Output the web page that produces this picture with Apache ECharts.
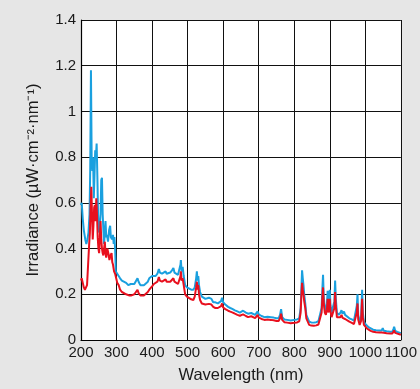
<!DOCTYPE html>
<html>
<head>
<meta charset="utf-8">
<script src="https://cdn.jsdelivr.net/npm/echarts@6/dist/echarts.min.js"></script>
<style>
html,body{margin:0;padding:0;background:#e6e6e6;}
#chart{width:420px;height:389px;}
</style>
</head>
<body>
<div id="chart"></div>
<script>
const xTicks = [200, 300, 400, 500, 600, 700, 800, 900, 1000, 1100];
const yTicks = [0, 0.2, 0.4, 0.6, 0.8, 1, 1.2, 1.4];

const blueNm = [200,202,205,208,212,215,218,221,224,226,228,230,232,234,236,238,240,242,244,246,248,250,252,255,257,259,261,263,265,267,269,271,273,276,279,282,284,287,290,292,294,296,298,302,306,310,315,320,327,333,340,345,350,355,359,362,367,372,377,382,388,392,396,400,405,410,415,419,422,428,433,438,441,446,451,456,460,463,468,473,477,480,481,483,486,489,493,498,503,510,516,520,524,526,528,530,532,535,540,545,550,555,560,563,567,572,578,585,590,594,597,600,606,614,620,627,633,640,647,652,656,660,664,670,675,679,683,690,697,700,708,716,725,734,742,750,756,760,763,766,772,780,790,800,808,814,818,820,822,824,826,828,831,834,838,842,848,855,862,868,873,877,879,881,883,886,889,892,894,896,898,900,902,905,910,913,915,917,920,925,930,933,936,940,943,948,955,962,968,973,976,978,980,984,988,991,993,996,1000,1005,1010,1015,1022,1030,1040,1046,1049,1052,1060,1070,1076,1079,1081,1084,1090,1095,1100];
const blueVal = [0.59,0.60,0.53,0.48,0.44,0.42,0.44,0.47,0.55,0.75,1.18,0.80,0.74,0.80,0.62,0.72,0.83,0.80,0.86,0.72,0.55,0.47,0.48,0.55,0.70,0.71,0.55,0.48,0.42,0.47,0.52,0.45,0.46,0.43,0.48,0.50,0.45,0.44,0.46,0.42,0.45,0.40,0.30,0.29,0.28,0.27,0.26,0.255,0.25,0.24,0.245,0.24,0.245,0.25,0.27,0.255,0.24,0.235,0.24,0.245,0.255,0.27,0.265,0.28,0.285,0.28,0.29,0.31,0.295,0.29,0.295,0.30,0.29,0.29,0.295,0.305,0.315,0.295,0.29,0.285,0.29,0.33,0.35,0.30,0.32,0.28,0.24,0.23,0.225,0.22,0.22,0.23,0.27,0.30,0.26,0.28,0.24,0.21,0.19,0.185,0.18,0.175,0.185,0.19,0.18,0.165,0.165,0.16,0.16,0.17,0.185,0.165,0.155,0.145,0.14,0.135,0.13,0.125,0.12,0.12,0.128,0.13,0.12,0.115,0.11,0.118,0.11,0.11,0.125,0.112,0.105,0.10,0.102,0.10,0.098,0.095,0.095,0.11,0.135,0.10,0.09,0.088,0.085,0.088,0.09,0.095,0.14,0.22,0.305,0.27,0.24,0.20,0.16,0.11,0.095,0.08,0.077,0.076,0.078,0.082,0.09,0.14,0.22,0.285,0.19,0.14,0.13,0.16,0.215,0.14,0.16,0.22,0.15,0.12,0.12,0.17,0.26,0.18,0.12,0.11,0.12,0.13,0.115,0.125,0.11,0.105,0.095,0.09,0.085,0.09,0.15,0.20,0.11,0.08,0.10,0.22,0.12,0.08,0.07,0.062,0.055,0.05,0.045,0.043,0.042,0.042,0.052,0.04,0.038,0.036,0.036,0.048,0.058,0.04,0.035,0.032,0.03];

const redNm = [200,202,205,208,211,214,217,220,223,225,227,229,231,233,235,237,239,241,243,245,247,249,251,253,255,257,259,261,263,265,267,269,271,274,277,280,283,286,288,290,293,296,299,302,306,310,315,320,327,335,342,350,355,359,362,367,372,377,382,388,392,396,400,405,410,415,419,422,428,433,438,441,446,451,456,460,463,468,473,477,480,481,483,486,489,493,498,503,510,516,520,524,526,528,530,532,535,540,545,550,555,560,563,567,572,578,585,590,594,597,600,606,614,620,627,633,640,647,652,656,660,664,670,675,679,683,690,697,700,708,716,725,734,742,750,756,760,763,766,772,780,790,800,808,814,818,820,822,824,826,828,831,834,838,842,848,855,862,868,873,877,879,881,883,886,889,892,894,896,898,900,902,905,910,913,915,917,920,925,930,933,936,940,943,948,955,962,968,973,976,978,980,984,988,991,993,996,1000,1005,1010,1015,1022,1030,1040,1046,1049,1052,1060,1070,1076,1079,1081,1084,1090,1095,1100];
const redVal = [0.26,0.27,0.25,0.23,0.22,0.22,0.24,0.33,0.42,0.47,0.58,0.67,0.55,0.44,0.50,0.58,0.59,0.52,0.62,0.55,0.45,0.40,0.38,0.45,0.52,0.44,0.40,0.38,0.37,0.40,0.43,0.38,0.36,0.40,0.38,0.35,0.37,0.38,0.34,0.33,0.30,0.29,0.27,0.25,0.24,0.22,0.21,0.205,0.20,0.195,0.195,0.20,0.205,0.22,0.205,0.195,0.19,0.195,0.20,0.21,0.22,0.22,0.235,0.245,0.245,0.255,0.275,0.26,0.255,0.26,0.265,0.255,0.25,0.255,0.26,0.27,0.255,0.25,0.245,0.25,0.28,0.30,0.26,0.27,0.24,0.20,0.19,0.183,0.178,0.175,0.19,0.23,0.255,0.22,0.24,0.20,0.175,0.16,0.158,0.155,0.15,0.158,0.165,0.155,0.145,0.14,0.14,0.138,0.148,0.16,0.142,0.135,0.128,0.124,0.12,0.115,0.11,0.106,0.105,0.112,0.115,0.105,0.10,0.097,0.104,0.097,0.096,0.11,0.098,0.092,0.088,0.09,0.088,0.086,0.083,0.083,0.095,0.115,0.088,0.078,0.076,0.073,0.075,0.077,0.082,0.12,0.19,0.25,0.22,0.20,0.17,0.14,0.095,0.08,0.066,0.063,0.062,0.064,0.068,0.075,0.12,0.18,0.23,0.16,0.12,0.11,0.135,0.18,0.12,0.135,0.18,0.125,0.10,0.10,0.14,0.21,0.15,0.10,0.092,0.10,0.11,0.097,0.105,0.092,0.088,0.08,0.075,0.07,0.075,0.12,0.16,0.09,0.066,0.083,0.18,0.10,0.066,0.058,0.05,0.044,0.04,0.036,0.034,0.033,0.033,0.04,0.032,0.03,0.028,0.028,0.036,0.042,0.031,0.028,0.025,0.023];

const pairs = (xs, ys) => xs.map((x, i) => [x, ys[i]]);

const chart = echarts.init(document.getElementById('chart'), null, {renderer: 'canvas'});
const font = 'Liberation Sans, Arial, Helvetica, sans-serif';
chart.setOption({
  animation: false,
  backgroundColor: '#e6e6e6',
  grid: {left: 81, right: 15, top: 20, bottom: 45, show: true, backgroundColor: '#ffffff', borderWidth: 0},
  xAxis: {
    type: 'value',
    min: xTicks[0], max: xTicks[xTicks.length - 1], interval: 100,
    name: 'Wavelength (nm)', nameLocation: 'middle', nameGap: 27,
    nameTextStyle: {color: '#1a1a1a', fontSize: 16.5, fontFamily: font},
    axisLine: {show: true, lineStyle: {color: '#000', width: 1.2}},
    axisTick: {show: false},
    axisLabel: {color: '#1a1a1a', fontSize: 15, fontFamily: font, margin: 5,
      formatter: v => xTicks.includes(v) ? String(v) : ''},
    splitLine: {show: true, lineStyle: {color: '#111', width: 1}}
  },
  yAxis: {
    type: 'value',
    min: yTicks[0], max: yTicks[yTicks.length - 1], interval: 0.2,
    name: 'Irradiance (µW·cm⁻²·nm⁻¹)', nameLocation: 'middle', nameGap: 39,
    nameTextStyle: {color: '#1a1a1a', fontSize: 16.5, fontFamily: font},
    axisLine: {show: true, lineStyle: {color: '#000', width: 1.2}},
    axisTick: {show: false},
    axisLabel: {color: '#1a1a1a', fontSize: 15, fontFamily: font, margin: 5,
      formatter: v => { const t = yTicks.find(y => Math.abs(y - v) < 1e-9); return t === undefined ? '' : String(t); }},
    splitLine: {show: true, lineStyle: {color: '#111', width: 1}}
  },
  series: [
    {type: 'line', data: pairs(blueNm, blueVal), showSymbol: false, symbol: 'none',
     lineStyle: {color: '#1aa0df', width: 2}, z: 2},
    {type: 'line', data: pairs(redNm, redVal), showSymbol: false, symbol: 'none',
     lineStyle: {color: '#e8101e', width: 2}, z: 3}
  ]
});
</script>
</body>
</html>
